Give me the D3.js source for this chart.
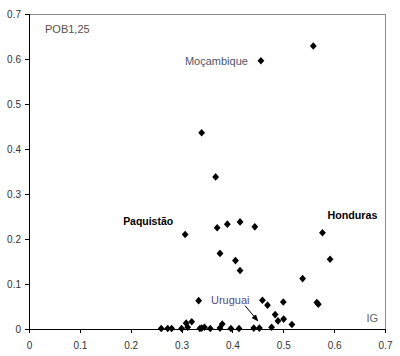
<!DOCTYPE html>
<html><head><meta charset="utf-8">
<script src="https://cdn.jsdelivr.net/npm/d3@7"></script>
<style>body{margin:0;background:#fff}svg{display:block}text{font-family:"Liberation Sans",Arial,sans-serif}</style>
</head><body>
<script>
const igValues = [0.456,0.559,0.3395,0.367,0.307,0.370,0.390,0.415,0.444,0.577,
  0.3755,0.406,0.415,0.592,0.538,0.3336,0.459,0.469,0.500,0.566,0.569,0.484,0.4896,0.5007,0.517,0.477,
  0.442,0.453,0.413,0.397,0.380,0.3755,0.3565,0.345,0.3395,0.336,0.320,0.309,0.312,0.300,0.2805,0.2727,0.260];
const pobValues = [0.596,0.629,0.436,0.338,0.210,0.225,0.233,0.238,0.227,0.214,
  0.168,0.152,0.130,0.155,0.112,0.063,0.064,0.053,0.060,0.059,0.055,0.032,0.018,0.022,0.010,0.004,
  0.002,0.002,0.001,0.001,0.011,0.002,0.001,0.004,0.002,0.001,0.016,0.013,0.004,0.001,0.001,0.001,0.001];
const xTicks = [0,0.1,0.2,0.3,0.4,0.5,0.6,0.7];
const yTicks = [0,0.1,0.2,0.3,0.4,0.5,0.6,0.7];

const W=400,H=356;
const svg=d3.select("body").append("svg").attr("width",W).attr("height",H);
const x=d3.scaleLinear().domain([0,0.7]).range([29,385]);
const y=d3.scaleLinear().domain([0,0.7]).range([329,14]);

// border
svg.append("path").attr("d",`M${x(0)},${y(0.7)}H${x(0.7)}V${y(0)}`).attr("fill","none").attr("stroke","#8c8c8c").attr("shape-rendering","crispEdges");

const xAxis=svg.append("g").attr("transform",`translate(0,${y(0)})`)
  .call(d3.axisBottom(x).tickValues(xTicks).tickSize(4).tickPadding(9).tickFormat(d=>d===0?"0":d3.format(".1f")(d)));
const yAxis=svg.append("g").attr("transform",`translate(${x(0)},0)`)
  .call(d3.axisLeft(y).tickValues(yTicks).tickSize(4).tickPadding(4).tickFormat(d=>d===0?"0":d3.format(".1f")(d)));
[xAxis,yAxis].forEach(g=>{
  g.select(".domain").attr("stroke","#000").attr("shape-rendering","crispEdges");
  g.selectAll(".tick line").attr("stroke","#000").attr("shape-rendering","crispEdges");
  g.selectAll("text").attr("fill","#333").style("font-size","10px").style("font-family","'Liberation Sans',Arial,sans-serif");
});

const pts=igValues.map((v,i)=>[v,pobValues[i]]);
svg.append("g").selectAll("path").data(pts).join("path")
  .attr("transform",d=>`translate(${x(d[0])},${y(d[1])})`)
  .attr("d","M0,-3.8L3.4,0L0,3.8L-3.4,0Z").attr("fill","#000");

// labels
svg.append("text").attr("x",45).attr("y",33).attr("fill","#5a4e46").style("font-size","11px").text("POB1,25");
svg.append("text").attr("x",x(0.456)-13).attr("y",y(0.596)+4).attr("text-anchor","end").attr("fill","#4e566c").style("font-size","11px").text("Moçambique");
svg.append("text").attr("x",x(0.307)-62).attr("y",y(0.210)-10).attr("fill","#000").style("font-size","11px").style("font-weight","bold").attr("textLength",50).attr("lengthAdjust","spacingAndGlyphs").text("Paquistão");
svg.append("text").attr("x",x(0.577)+5).attr("y",y(0.214)-13.5).attr("fill","#000").style("font-size","11px").style("font-weight","bold").attr("textLength",50).attr("lengthAdjust","spacingAndGlyphs").text("Honduras");
svg.append("text").attr("x",211).attr("y",303.5).attr("fill","#5a4a88").style("font-size","11px").text("Uruguai");
svg.append("text").attr("x",378).attr("y",322).attr("text-anchor","end").attr("fill","#666").style("font-size","11px").text("IG");

// arrow
svg.append("defs").append("marker").attr("id","ah").attr("viewBox","0 0 10 10").attr("refX",9).attr("refY",5)
  .attr("markerWidth",7).attr("markerHeight",7).attr("orient","auto")
  .append("path").attr("d","M0,1L10,5L0,9Z").attr("fill","#000");
svg.append("line").attr("x1",x(0.4247)).attr("y1",y(0.052)).attr("x2",x(0.450)).attr("y2",y(0.018))
  .attr("stroke","#000").attr("stroke-width",1).attr("marker-end","url(#ah)");
</script>
</body></html>
